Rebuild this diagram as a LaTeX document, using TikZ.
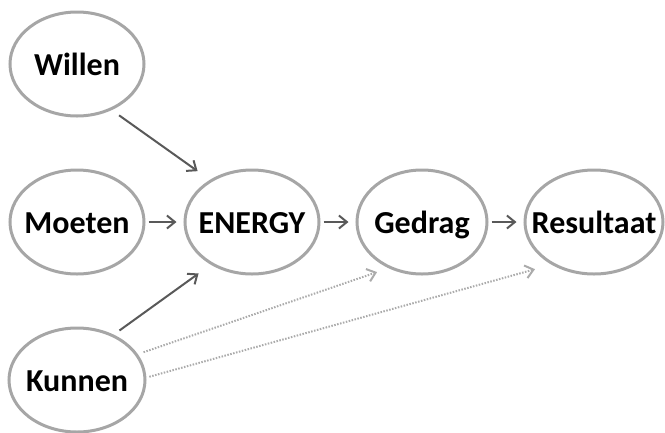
\documentclass[tikz,border=0pt]{standalone}
\usepackage{fontspec}
\setmainfont{Carlito}
\usepackage{tikz}
\usetikzlibrary{shapes.geometric,arrows.meta}
\definecolor{BlobGray}{HTML}{A6A6A6}
\definecolor{ArrowDark}{HTML}{595959}
\definecolor{DotGray}{HTML}{ABABAB}

\begin{document}
\begin{tikzpicture}[x=1pt,y=-1pt,
    blob/.style={ellipse,draw=BlobGray,line width=3pt,inner xsep=-20pt,inner ysep=0pt,
      minimum height=104pt,text height=22pt,text depth=0pt,
      font=\fontsize{32}{38}\selectfont\bfseries},
    push/.style={draw=ArrowDark,line width=2pt,-{Straight Barb[length=8pt,width=13pt]}},
    hint/.style={draw=DotGray,line width=2pt,dash pattern=on 1.5pt off 1.5pt,
      -{Straight Barb[length=8pt,width=13pt]}}]
   \useasboundingbox (0,0) rectangle (665,432);

   \node[blob,minimum width=134pt] (willen) at (77,64) {Willen};
   \node[blob,minimum width=134pt] (moeten) at (77,222) {Moeten};
   \node[blob,minimum width=136pt] (kunnen) at (77,380) {Kunnen};
   \node[blob,minimum width=134pt] (energy) at (252,222) {ENERGY};
   \node[blob,minimum width=130pt] (gedrag) at (422,222) {Gedrag};
   \node[blob,minimum width=138pt] (resultaat) at (594,222) {Resultaat};

   \foreach \from/\to in {moeten/energy,energy/gedrag,gedrag/resultaat} {
    \draw[push,shorten <=3pt,shorten >=7pt] (\from.east) -- (\to.west);
   }
   \draw[push,shorten <=9pt,shorten >=15pt] (willen.-53) -- (energy.135);
   \draw[push,shorten <=7pt,shorten >=15pt] (kunnen.51) -- (energy.-134);

   \draw[hint,shorten <=6pt,shorten >=12pt] (kunnen.23) -- (gedrag.-126);
   \draw[hint,shorten <=3pt,shorten >=17pt] (kunnen.2) -- (resultaat.-135);
  \end{tikzpicture}
\end{document}
